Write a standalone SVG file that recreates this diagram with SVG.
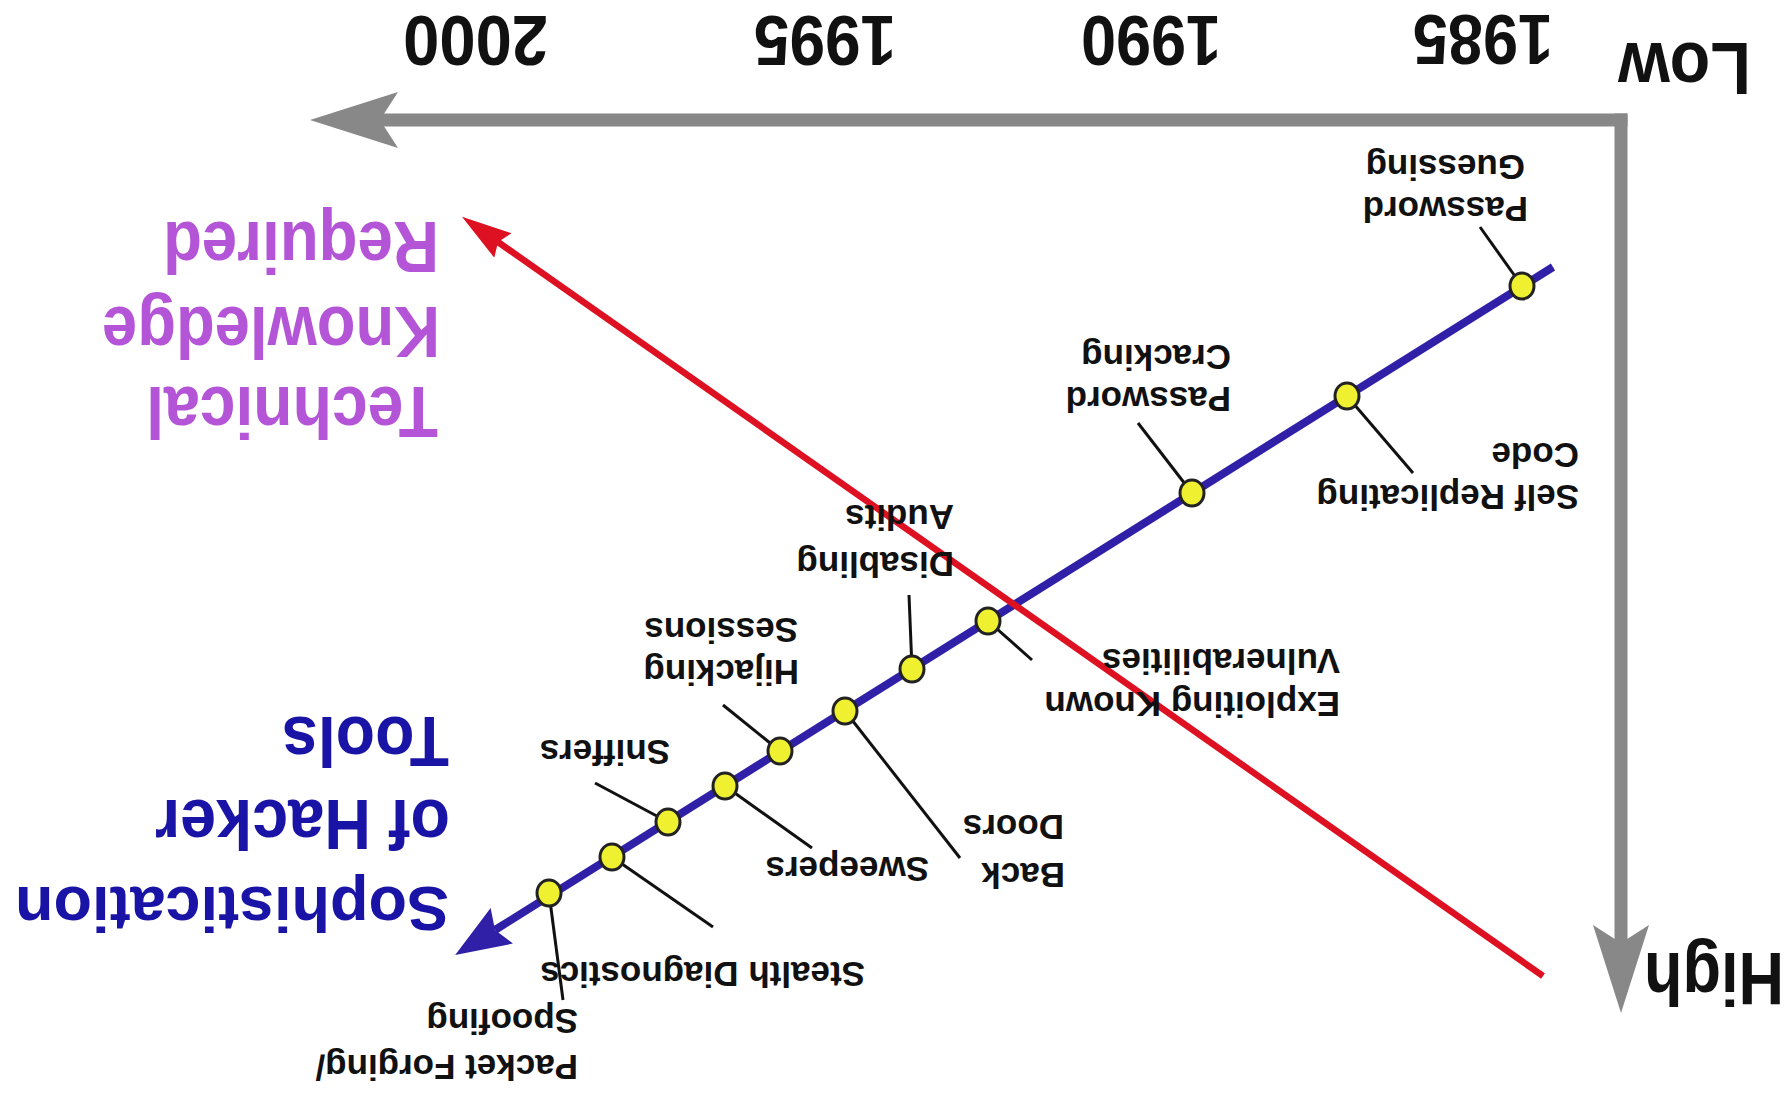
<svg xmlns="http://www.w3.org/2000/svg" width="1785" height="1093" viewBox="0 0 1785 1093">
<style>
  text{font-family:"Liberation Sans",Arial,Helvetica,sans-serif;font-weight:bold}
  .lbl{font-size:35px;fill:#111}
  .big{font-size:75px;fill:#111}
  .yr{font-size:70px;fill:#111}
  .tk{font-size:72px;fill:#b455d8}
  .soph{font-size:70px;fill:#1a14a6}
  .leader{stroke:#111;stroke-width:3;fill:none}
  .dot{fill:#eef030;stroke:#222;stroke-width:3}
  .axis{stroke:#888;stroke-width:13;fill:none}
</style>
<defs>
  <marker id="grayHead" markerUnits="userSpaceOnUse" markerWidth="100" markerHeight="60" viewBox="0 -30 100 60" refX="23" refY="0" orient="auto">
    <path d="M0,-28 L88,0 L0,28 L18,0 Z" fill="#888"/>
  </marker>
  <marker id="blueHead" markerUnits="userSpaceOnUse" markerWidth="60" markerHeight="50" viewBox="0 -25 60 50" refX="8" refY="0" orient="auto">
    <path d="M0,-21 L55,0 L0,21 L8,0 Z" fill="#3020a8"/>
  </marker>
  <marker id="redHead" markerUnits="userSpaceOnUse" markerWidth="60" markerHeight="40" viewBox="0 -20 60 40" refX="6" refY="0" orient="auto">
    <path d="M0,-15 L50,0 L0,15 L6,0 Z" fill="#dd1122"/>
  </marker>
</defs>
<rect width="1785" height="1093" fill="#fff"/>

<g id="connectors">
  <path class="axis" d="M1627.5,120 L375,120" marker-end="url(#grayHead)"/>
  <path class="axis" d="M1621,113.5 L1621,948" marker-end="url(#grayHead)"/>
  <path d="M1553,267 L495,930" stroke="#3020a8" stroke-width="8" fill="none" marker-end="url(#blueHead)"/>
  <path d="M1543,976 L498,242" stroke="#dd1122" stroke-width="6.5" fill="none" marker-end="url(#redHead)"/>
  <line class="leader" x1="1522" y1="286" x2="1480" y2="227"/>
  <line class="leader" x1="1347" y1="396" x2="1413" y2="473"/>
  <line class="leader" x1="1192" y1="493" x2="1138" y2="423"/>
  <line class="leader" x1="988" y1="621" x2="1032" y2="660"/>
  <line class="leader" x1="912" y1="669" x2="909" y2="595"/>
  <line class="leader" x1="845" y1="711" x2="960" y2="858"/>
  <line class="leader" x1="780" y1="751" x2="723" y2="705"/>
  <line class="leader" x1="725" y1="786" x2="812" y2="848"/>
  <line class="leader" x1="668" y1="822" x2="595" y2="783"/>
  <line class="leader" x1="612" y1="857" x2="713" y2="927"/>
  <line class="leader" x1="549" y1="893" x2="563" y2="1000"/>
</g>

<g id="axis-labels">
  <text class="big" x="1751" y="43" textLength="133" lengthAdjust="spacingAndGlyphs" transform="rotate(180 1751 43)">Low</text>
  <text class="big" x="1784" y="953" textLength="140" lengthAdjust="spacingAndGlyphs" transform="rotate(180 1784 953)">High</text>
  <text class="yr" x="1553" y="15" textLength="140" lengthAdjust="spacingAndGlyphs" transform="rotate(180 1553 15)">1985</text>
  <text class="yr" x="1221" y="16" textLength="140" lengthAdjust="spacingAndGlyphs" transform="rotate(180 1221 16)">1990</text>
  <text class="yr" x="896" y="16" textLength="142" lengthAdjust="spacingAndGlyphs" transform="rotate(180 896 16)">1995</text>
  <text class="yr" x="548" y="16" textLength="145" lengthAdjust="spacingAndGlyphs" transform="rotate(180 548 16)">2000</text>
</g>

<g id="technical-knowledge">
  <text class="tk" x="438" y="387" textLength="292" lengthAdjust="spacingAndGlyphs" transform="rotate(180 438 387)">Technical</text>
  <text class="tk" x="440" y="307" textLength="338" lengthAdjust="spacingAndGlyphs" transform="rotate(180 440 307)">Knowledge</text>
  <text class="tk" x="439" y="222" textLength="276" lengthAdjust="spacingAndGlyphs" transform="rotate(180 439 222)">Required</text>
</g>

<g id="sophistication">
  <text class="soph" x="449" y="887" style="font-size:63px" textLength="434" lengthAdjust="spacingAndGlyphs" transform="rotate(180 449 887)">Sophistication</text>
  <text class="soph" x="450" y="800" textLength="295" lengthAdjust="spacingAndGlyphs" transform="rotate(180 450 800)">of Hacker</text>
  <text class="soph" x="449" y="717" textLength="167" lengthAdjust="spacingAndGlyphs" transform="rotate(180 449 717)">Tools</text>
</g>

<g id="node-password-guessing">
  <ellipse class="dot" cx="1522" cy="286" rx="12" ry="13"/>
  <text class="lbl" x="1528" y="197" transform="rotate(180 1528 197)">Password</text>
  <text class="lbl" x="1525" y="155" transform="rotate(180 1525 155)">Guessing</text>
</g>
<g id="node-self-replicating-code">
  <ellipse class="dot" cx="1347" cy="396" rx="12" ry="13"/>
  <text class="lbl" x="1579" y="485" transform="rotate(180 1579 485)">Self Replicating</text>
  <text class="lbl" x="1579" y="443" transform="rotate(180 1579 443)">Code</text>
</g>
<g id="node-password-cracking">
  <ellipse class="dot" cx="1192" cy="493" rx="12" ry="13"/>
  <text class="lbl" x="1231" y="387" transform="rotate(180 1231 387)">Password</text>
  <text class="lbl" x="1231" y="345" transform="rotate(180 1231 345)">Cracking</text>
</g>
<g id="node-exploiting-known-vulnerabilities">
  <ellipse class="dot" cx="988" cy="621" rx="12" ry="13"/>
  <text class="lbl" x="1340" y="692" transform="rotate(180 1340 692)">Exploiting Known</text>
  <text class="lbl" x="1340" y="649" transform="rotate(180 1340 649)">Vulnerabilities</text>
</g>
<g id="node-disabling-audits">
  <ellipse class="dot" cx="912" cy="669" rx="12" ry="13"/>
  <text class="lbl" x="954" y="552" transform="rotate(180 954 552)">Disabling</text>
  <text class="lbl" x="954" y="505" transform="rotate(180 954 505)">Audits</text>
</g>
<g id="node-back-doors">
  <ellipse class="dot" cx="845" cy="711" rx="12" ry="13"/>
  <text class="lbl" x="1065" y="863" transform="rotate(180 1065 863)">Back</text>
  <text class="lbl" x="1064" y="815" transform="rotate(180 1064 815)">Doors</text>
</g>
<g id="node-hijacking-sessions">
  <ellipse class="dot" cx="780" cy="751" rx="12" ry="13"/>
  <text class="lbl" x="799" y="660" transform="rotate(180 799 660)">Hijacking</text>
  <text class="lbl" x="798" y="618" transform="rotate(180 798 618)">Sessions</text>
</g>
<g id="node-sweepers">
  <ellipse class="dot" cx="725" cy="786" rx="12" ry="13"/>
  <text class="lbl" x="929" y="857" transform="rotate(180 929 857)">Sweepers</text>
</g>
<g id="node-sniffers">
  <ellipse class="dot" cx="668" cy="822" rx="12" ry="13"/>
  <text class="lbl" x="670" y="740" transform="rotate(180 670 740)">Sniffers</text>
</g>
<g id="node-stealth-diagnostics">
  <ellipse class="dot" cx="612" cy="857" rx="12" ry="13"/>
  <text class="lbl" x="865" y="962" transform="rotate(180 865 962)">Stealth Diagnostics</text>
</g>
<g id="node-packet-forging-spoofing">
  <ellipse class="dot" cx="549" cy="893" rx="12" ry="13"/>
  <text class="lbl" x="578" y="1055" transform="rotate(180 578 1055)">Packet Forging/</text>
  <text class="lbl" x="578" y="1009" transform="rotate(180 578 1009)">Spoofing</text>
</g>
</svg>
